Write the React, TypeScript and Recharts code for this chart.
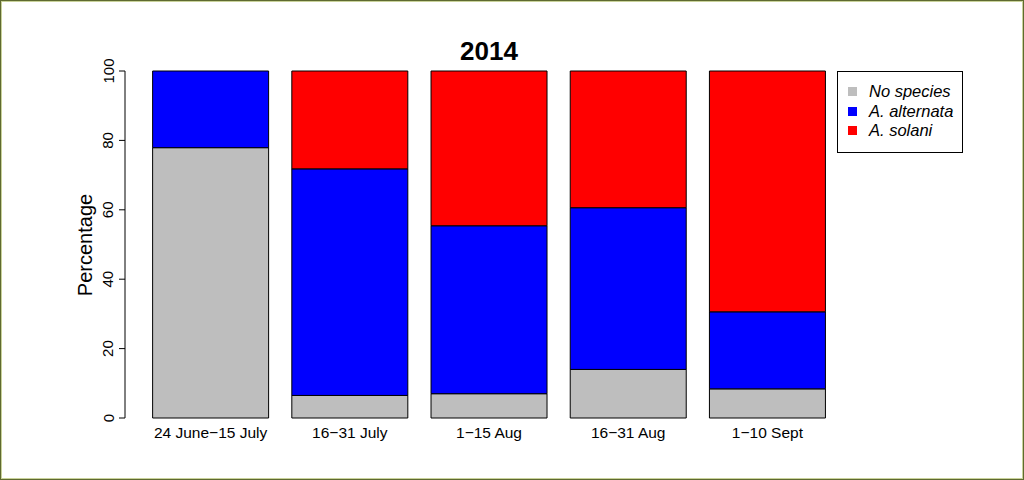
import { BarChart, Bar, XAxis, YAxis, Legend } from "recharts";

// periods on the x axis
const periods = [
  "24 June\u221215 July",
  "16\u221231 July",
  "1\u221215 Aug",
  "16\u221231 Aug",
  "1\u221210 Sept",
];

// percentages (stacked bottom to top)
const noSpecies = [77.9, 6.5, 7.0, 14.0, 8.4];
const alternata = [22.1, 65.3, 48.4, 46.6, 22.2];
const solani = [0, 28.2, 44.6, 39.4, 69.4];

const yTicks = [0, 20, 40, 60, 80, 100];

const SERIES = [
  { key: "noSpecies", name: "No species", color: "#bebebe" },
  { key: "alternata", name: "A. alternata", color: "#0000ff" },
  { key: "solani", name: "A. solani", color: "#ff0000" },
];

const FONT = "'Liberation Sans', Arial, sans-serif";

const data = periods.map((period, i) => ({
  period,
  noSpecies: noSpecies[i],
  alternata: alternata[i],
  solani: solani[i],
}));

function XTick({ x, y, payload }: any) {
  return (
    <text
      x={x}
      y={y + 14}
      textAnchor="middle"
      dominantBaseline="central"
      fontSize={15.5}
      fontFamily={FONT}
      fill="#000"
    >
      {payload.value}
    </text>
  );
}

function YTick({ x, y, payload }: any) {
  const cx = x - 9;
  return (
    <text
      x={cx}
      y={y}
      transform={`rotate(-90, ${cx}, ${y})`}
      textAnchor="middle"
      dominantBaseline="central"
      fontSize={15}
      fontFamily={FONT}
      fill="#000"
    >
      {payload.value}
    </text>
  );
}

function LegendBox() {
  return (
    <div
      style={{
        boxSizing: "border-box",
        width: 126,
        height: 82,
        border: "1px solid #000",
        background: "#fff",
        paddingTop: 10,
        fontFamily: FONT,
        fontStyle: "italic",
        fontSize: 16.5,
        color: "#000",
      }}
    >
      {SERIES.map((s) => (
        <div
          key={s.key}
          style={{ display: "flex", alignItems: "center", height: 19.5 }}
        >
          <span
            style={{
              display: "inline-block",
              width: 9,
              height: 9,
              marginLeft: 10,
              marginRight: 12,
              background: s.color,
            }}
          />
          <span>{s.name}</span>
        </div>
      ))}
    </div>
  );
}

export default function App() {
  return (
    <div
      style={{
        position: "absolute",
        left: 0,
        top: 0,
        width: 1024,
        height: 480,
        background: "#fff",
        boxShadow: "inset 0 0 0 1px #5f6a30, inset 0 0 0 2px #c9d29a",
      }}
    >
      <div
        style={{
          position: "absolute",
          left: 389,
          width: 200,
          top: 36,
          textAlign: "center",
          fontFamily: FONT,
          fontWeight: "bold",
          fontSize: 26,
          lineHeight: "30px",
          color: "#000",
        }}
      >
        2014
      </div>
      <div
        style={{
          position: "absolute",
          left: 85,
          top: 245,
          transform: "translate(-50%, -50%) rotate(-90deg)",
          fontFamily: FONT,
          fontSize: 20,
          color: "#000",
          whiteSpace: "nowrap",
        }}
      >
        Percentage
      </div>
      <BarChart
        width={1024}
        height={480}
        data={data}
        margin={{ top: 71, right: 187, bottom: 32, left: 0 }}
        barCategoryGap="8.35%"
      >
        <XAxis
          dataKey="period"
          axisLine={false}
          tickLine={false}
          tickSize={0}
          tickMargin={0}
          height={30}
          padding={{ left: 16, right: 0 }}
          tick={<XTick />}
          interval={0}
        />
        <YAxis
          domain={[0, 100]}
          ticks={yTicks}
          width={125}
          tickSize={6}
          tickMargin={2}
          axisLine={{ stroke: "#000" }}
          tickLine={{ stroke: "#000" }}
          tick={<YTick />}
        />
        <Legend
          layout="vertical"
          align="center"
          verticalAlign="middle"
          content={<LegendBox />}
          wrapperStyle={{ position: "absolute", left: 837, top: 71, width: 126 }}
        />
        {SERIES.map((s) => (
          <Bar
            key={s.key}
            dataKey={s.key}
            name={s.name}
            stackId="a"
            fill={s.color}
            stroke="#000"
            strokeWidth={1}
            isAnimationActive={false}
          />
        ))}
      </BarChart>
    </div>
  );
}
